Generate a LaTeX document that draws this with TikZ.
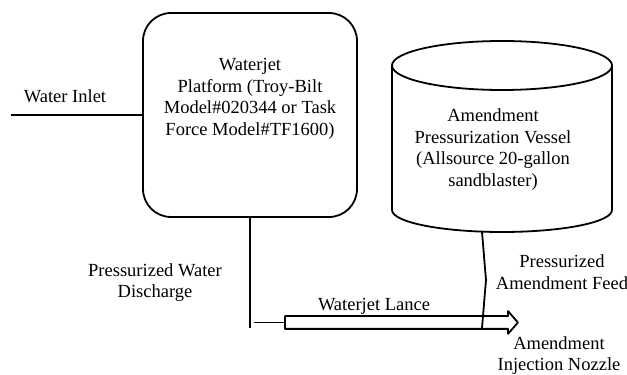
\documentclass[tikz,border=0pt]{standalone}
\usepackage{fontspec}
\setmainfont{Liberation Serif}
\usetikzlibrary{shapes.arrows}
\begin{document}
\begin{tikzpicture}[x=1pt,y=1pt,
  line/.style={line width=1.8pt, line join=round},
  lbl/.style={align=center, inner sep=0pt, font=\fontsize{18.5}{21.5}\selectfont},
  platformbox/.style={line, draw, rounded corners=28pt, minimum width=214pt, minimum height=204pt, inner sep=0pt},
  lancearrow/.style={line, draw, single arrow, minimum height=233pt, minimum width=21pt,
    single arrow head extend=5pt, single arrow tip angle=98, inner sep=5.5pt, shape border rotate=0}]
\useasboundingbox (0,0) rectangle (627,375);
% platform
\node[platformbox] (platform) at (250,260) {};
\node[lbl] (platformlabel) at ([yshift=16pt]platform.center) {Waterjet\\Platform (Troy-Bilt\\Model\#020344 or Task\\Force Model\#TF1600)};
% water inlet
\coordinate (inlet) at (11,260);
\draw[line] (inlet) -- (platform.west);
\node[lbl] (inletlabel) at (65,279) {Water Inlet};
% discharge
\coordinate (dischargeend) at (250,47);
\draw[line] (platform.south) -- (dischargeend);
\node[lbl] (dischargelabel) at (155,92.5) {Pressurized Water\\Discharge};
% lance
\node[lancearrow, anchor=west] (lance) at (284,52.5) {};
\coordinate (lancestart) at (254,52.5);
\draw[line] (lancestart) -- (lance.west);
\node[lbl] (lancelabel) at (374,69) {Waterjet Lance};
% vessel (cylinder)
\draw[line] (502,309.5) ellipse [x radius=110pt, y radius=24.5pt];
\draw[line] (392,309.5) -- (392,165) arc[start angle=180, end angle=360, x radius=110pt, y radius=22pt] -- (612,309.5);
\node[lbl] (vessellabel) at (493,225.5) {Amendment\\Pressurization Vessel\\(Allsource 20-gallon\\sandblaster)};
\coordinate (vesselbottom) at (482,143);
\coordinate (feedbend) at (486,95);
\coordinate (feedend) at (482,47);
\draw[line] (vesselbottom) -- (feedbend) -- (feedend);
\node[lbl] (feedlabel) at (562,103) {Pressurized\\Amendment Feed};
\node[lbl] (nozzlelabel) at (559,19.5) {Amendment\\Injection Nozzle};
\end{tikzpicture}
\end{document}
